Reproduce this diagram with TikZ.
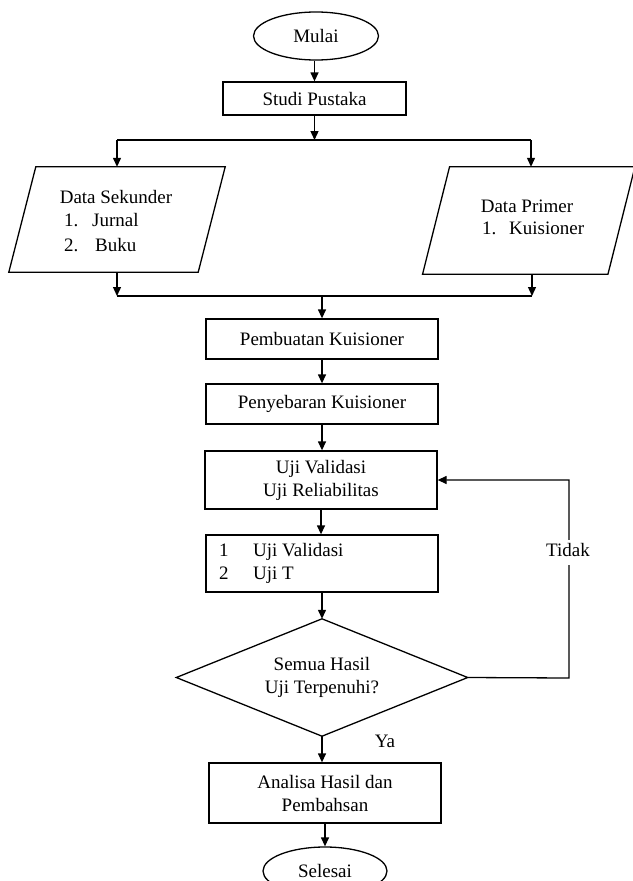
\documentclass[tikz,border=0pt]{standalone}
\usepackage{fontspec}
\setmainfont{Liberation Serif}
\usetikzlibrary{arrows.meta,shapes.geometric,calc}
\begin{document}
\begin{tikzpicture}[x=1pt,y=-1pt,
  every node/.style={font=\fontsize{19}{23}\selectfont},
  box/.style={draw, line width=1.3pt, minimum width=232pt, minimum height=40pt, inner sep=0pt, align=center},
  term/.style={draw, ellipse, line width=1.3pt, minimum width=125pt, minimum height=48pt, inner sep=0pt},
  ghost/.style={inner sep=0pt, minimum width=#1},
  txt/.style={inner sep=0pt, text height=13pt, text depth=4pt},
  conn/.style={line width=1.3pt, -{Triangle[length=9pt,width=8pt]}},
  ln/.style={line width=1.3pt}]
\useasboundingbox (0,0) rectangle (632,881);

% terminals and boxes
\node[term] (mulai) at (316,36) {Mulai};
\node[box, minimum width=183pt, minimum height=33pt] (studi) at (314.5,98.5) {Studi Pustaka};

% parallelograms (frames)
\node[ghost=189pt, minimum height=105pt] (sek) at (117,219.5) {};
\node[ghost=185pt, minimum height=107pt] (pri) at (528.75,220.5) {};
\draw[ln] ($(sek.north west)+(13.5,0)$) -- ($(sek.north east)+(13.5,0)$) -- ($(sek.south east)+(-13.5,0)$) -- ($(sek.south west)+(-13.5,0)$) -- cycle;
\draw[ln] ($(pri.north west)+(13.5,0)$) -- ($(pri.north east)+(13.5,0)$) -- ($(pri.south east)+(-13.5,0)$) -- ($(pri.south west)+(-13.5,0)$) -- cycle;

\node[txt] (sekt) at (116,199) {Data Sekunder};
\node[txt, anchor=west] (sek1n) at (64,222) {1.};
\node[txt, anchor=west] (sek1) at (92,222) {Jurnal};
\node[txt, anchor=west] (sek2n) at (64,247) {2.};
\node[txt, anchor=west] (sek2) at (95,247) {Buku};

\node[txt] (prit) at (527,208) {Data Primer};
\node[txt, anchor=west] (pri1n) at (482,230) {1.};
\node[txt, anchor=west] (pri1) at (509,230) {Kuisioner};

\node[box] (pemb) at (322,339) {Pembuatan Kuisioner};
\node[box] (peny) at (322,404) {Penyebaran Kuisioner};
\node[box, minimum height=58pt] (uji) at (321,480) {Uji Validasi\\Uji Reliabilitas};
\node[box, minimum height=57pt] (list) at (322,563.5) {};
\node[txt, anchor=west] (l1n) at (219,552) {1};
\node[txt, anchor=west] (l1) at (253,552) {Uji Validasi};
\node[txt, anchor=west] (l2n) at (219,575) {2};
\node[txt, anchor=west] (l2) at (253,575) {Uji T};

% decision
\node[ghost=291pt, minimum height=117pt] (dec) at (322,677.5) {};
\draw[ln] (dec.north) -- (dec.west) -- (dec.south) -- (dec.east) -- cycle;
\node[align=center, inner sep=0pt] (dect) at (322,677) {Semua Hasil\\Uji Terpenuhi?};

\node[box, minimum height=60pt] (anal) at (325,793) {Analisa Hasil dan\\Pembahsan};
\node[term, minimum width=124pt] (selesai) at (325,871) {Selesai};

% connectors
\coordinate (split) at (314.5,140);
\coordinate (sl) at (117,140);
\coordinate (sr) at (531,140);
\coordinate (jl) at (117,296);
\coordinate (jr) at (532,296);
\coordinate (jm) at (322,296);
\coordinate (fb) at (569,678);

\draw[conn] (mulai.south -| studi.north) -- (studi.north);
\draw[conn] (studi.south) -- (split);
\draw[ln] (sl) -- (sr);
\draw[conn] (sl) -- (sek.north);
\draw[conn] (sr) -- (sr |- pri.north);
\draw[conn] (sek.south) -- (jl);
\draw[conn] (jr |- pri.south) -- (jr);
\draw[ln] (jl) -- (jr);
\draw[conn] (jm) -- (pemb.north);
\draw[conn] (pemb.south) -- (peny.north);
\draw[conn] (peny.south) -- (peny.south |- uji.north);
\draw[conn] (uji.south) -- (uji.south |- list.north);
\draw[conn] (list.south) -- (dec.north);
\draw[conn] (dec.south) -- (dec.south |- anal.north);
\draw[conn] (anal.south) -- (selesai.north);
\draw[conn] (dec.east) -- (fb) -- (fb |- uji.east) -- (uji.east);

\node[txt, fill=white, inner ysep=4pt] (tidak) at (568,552) {Tidak};
\node[txt] (ya) at (385,743) {Ya};
\end{tikzpicture}
\end{document}
